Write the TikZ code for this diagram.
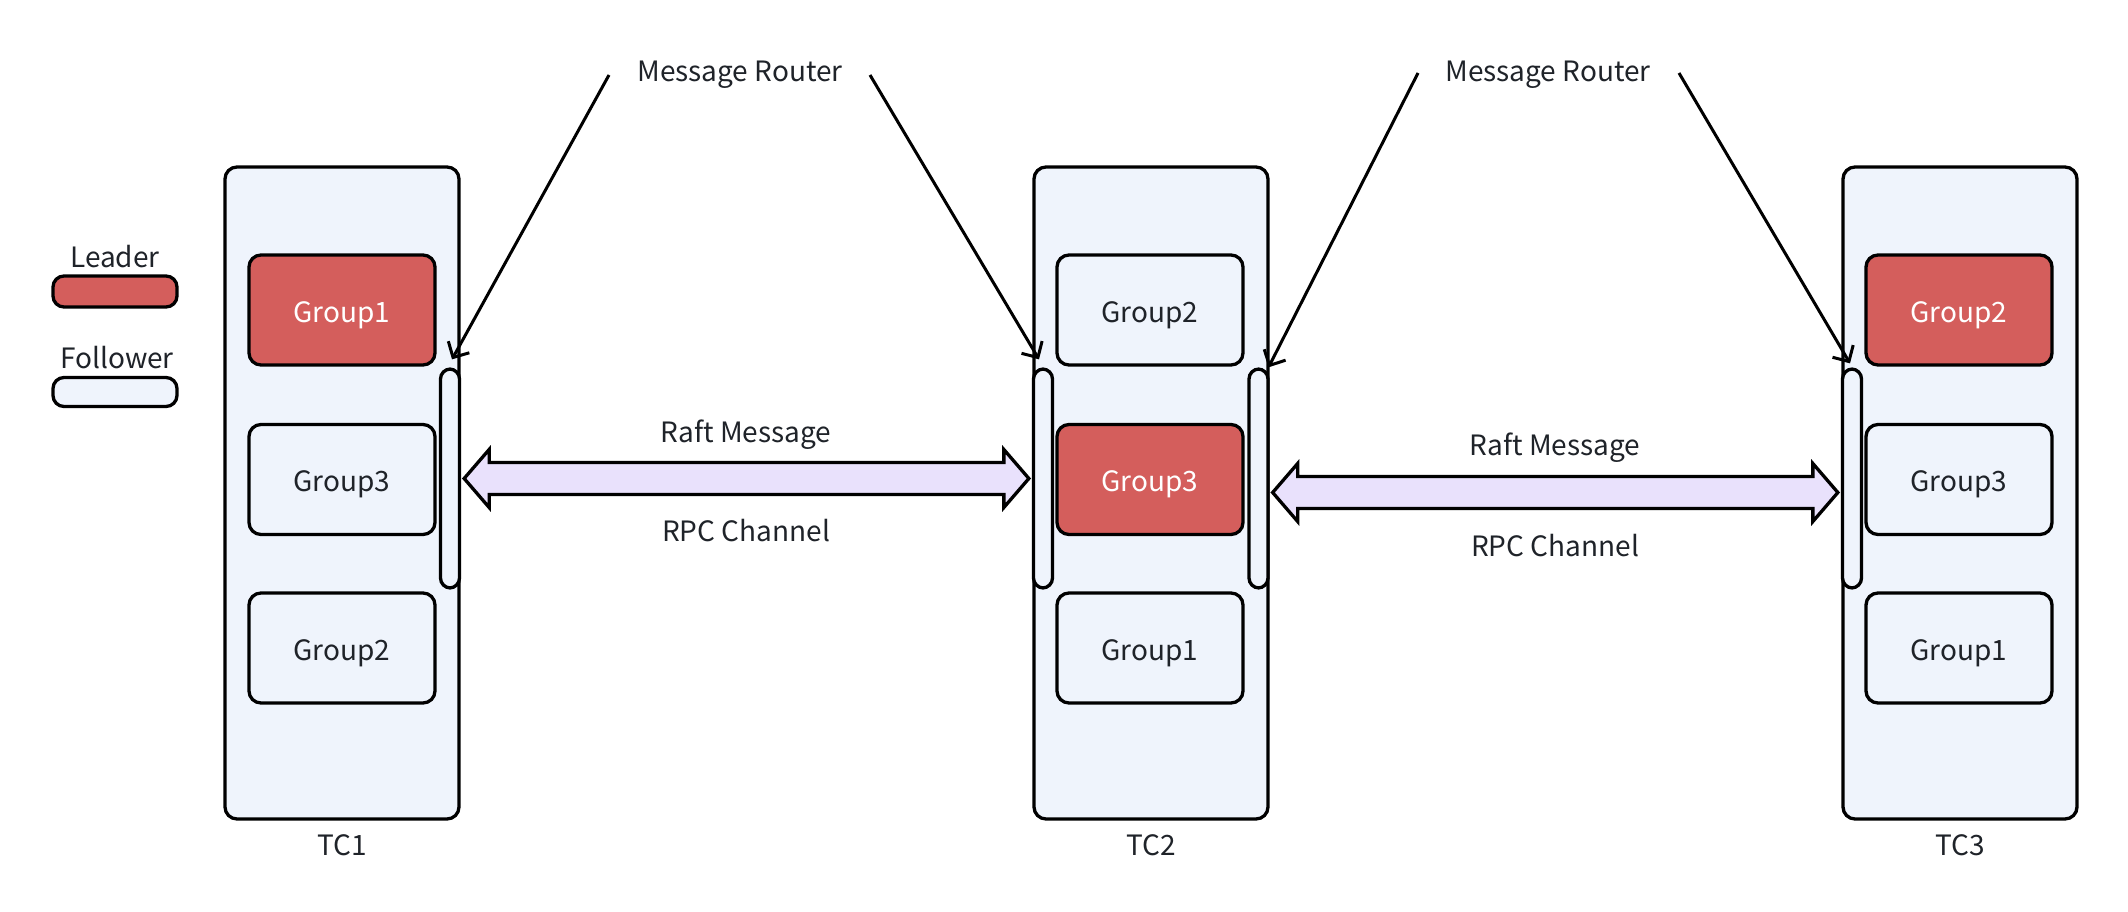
\documentclass[tikz,border=0pt]{standalone}
\usepackage{fontspec}
\setmainfont{Noto Sans CJK SC}
\usetikzlibrary{arrows.meta,calc}
\definecolor{boxblue}{HTML}{EFF4FC}
\definecolor{leadred}{HTML}{D45E5C}
\definecolor{lav}{HTML}{E9E1FC}
\definecolor{txt}{HTML}{1F2329}
\newcommand{\fs}{\fontsize{28pt}{34pt}\selectfont}
\begin{document}
\begin{tikzpicture}[x=1pt,y=-1pt,
  tc/.style={draw, line width=3.3pt, fill=boxblue, rounded corners=12pt, minimum width=234pt, minimum height=652pt, inner sep=0pt},
  grp/.style={draw, line width=3.3pt, fill=boxblue, rounded corners=12pt, minimum width=186pt, minimum height=110pt, inner sep=0pt, text=txt, font=\fs, text height=24pt, text depth=0pt},
  lead/.style={grp, fill=leadred, text=white},
  bar/.style={draw, line width=3.3pt, fill=boxblue, rounded corners=10pt, minimum width=19pt, minimum height=219pt, inner sep=0pt},
  lbl/.style={text=txt, font=\fs, inner sep=0pt, text height=20.5pt, text depth=0pt},
  router/.style={line width=3pt, -{Straight Barb[length=12pt,width=24pt,line width=3pt]}},
  blockarrow/.style={draw, line width=3.3pt, fill=lav, line join=miter}
]
\useasboundingbox (0,0) rectangle (2128,912);

% legend
\node[lbl] (leg1) at (115,257) {Leader};
\node[draw, line width=3.3pt, fill=leadred, rounded corners=11pt, minimum width=124pt, minimum height=31pt, inner sep=0pt] (legbox1) at (115,291.5) {};
\node[lbl] (leg2) at (117,358) {Follower};
\node[draw, line width=3.3pt, fill=boxblue, rounded corners=11pt, minimum width=124pt, minimum height=29pt, inner sep=0pt] (legbox2) at (115,392) {};

% TC boxes
\node[tc] (tc1) at (342,493) {};
\node[tc] (tc2) at (1151,493) {};
\node[tc] (tc3) at (1960,493) {};
\node[lbl] (tc1l) at (342,845) {TC1};
\node[lbl] (tc2l) at (1151,845) {TC2};
\node[lbl] (tc3l) at (1960,845) {TC3};

% groups
\node[lead] (a1) at (342,310) {Group1};
\node[grp] (a3) at (342,479.5) {Group3};
\node[grp] (a2) at (342,648) {Group2};
\node[grp] (b2) at (1150,310) {Group2};
\node[lead] (b3) at (1150,479.5) {Group3};
\node[grp] (b1) at (1150,648) {Group1};
\node[lead] (c2) at (1959,310) {Group2};
\node[grp] (c3) at (1959,479.5) {Group3};
\node[grp] (c1) at (1959,648) {Group1};

% bars
\node[bar] (bar1) at (450,478.5) {};
\node[bar] (bar2l) at (1043,478.5) {};
\node[bar] (bar2r) at (1258.5,478.5) {};
\node[bar] (bar3) at (1852,478.5) {};

% block arrows
\draw[blockarrow] let \p1=($(bar1.east)+(3,0)$), \p2=($(bar2l.west)+(-3,0)$) in
  (\x1,\y1) -- (\x1+25pt,\y1+29pt) -- (\x1+25pt,\y1+16pt) -- (\x2-25pt,\y1+16pt) -- (\x2-25pt,\y1+29pt)
  -- (\x2,\y1) -- (\x2-25pt,\y1-29pt) -- (\x2-25pt,\y1-16pt) -- (\x1+25pt,\y1-16pt) -- (\x1+25pt,\y1-29pt) -- cycle;
\draw[blockarrow] let \p1=($(bar2r.east)+(3,14)$), \p2=($(bar3.west)+(-3,14)$) in
  (\x1,\y1) -- (\x1+25pt,\y1+29pt) -- (\x1+25pt,\y1+16pt) -- (\x2-25pt,\y1+16pt) -- (\x2-25pt,\y1+29pt)
  -- (\x2,\y1) -- (\x2-25pt,\y1-29pt) -- (\x2-25pt,\y1-16pt) -- (\x1+25pt,\y1-16pt) -- (\x1+25pt,\y1-29pt) -- cycle;

\node[lbl] (rm1) at (746,432) {Raft Message};
\node[lbl] (rpc1) at (746,531) {RPC Channel};
\node[lbl] (rm2) at (1555,445) {Raft Message};
\node[lbl] (rpc2) at (1555,546) {RPC Channel};

% message routers
\node[lbl] (mr1) at (740,71) {Message Router};
\node[lbl] (mr2) at (1548,71) {Message Router};
\coordinate (s1) at (609,75);
\coordinate (s2) at (870,75);
\coordinate (s3) at (1418,73);
\coordinate (s4) at (1679,73);
\draw[router] (s1) -- ($(bar1.north)+(2,-8)$);
\draw[router] (s2) -- ($(bar2l.north)+(-4,-8)$);
\draw[router] (s3) -- ($(bar2r.north)+(10,0)$);
\draw[router] (s4) -- ($(bar3.north)+(-2,-4)$);
\end{tikzpicture}
\end{document}
